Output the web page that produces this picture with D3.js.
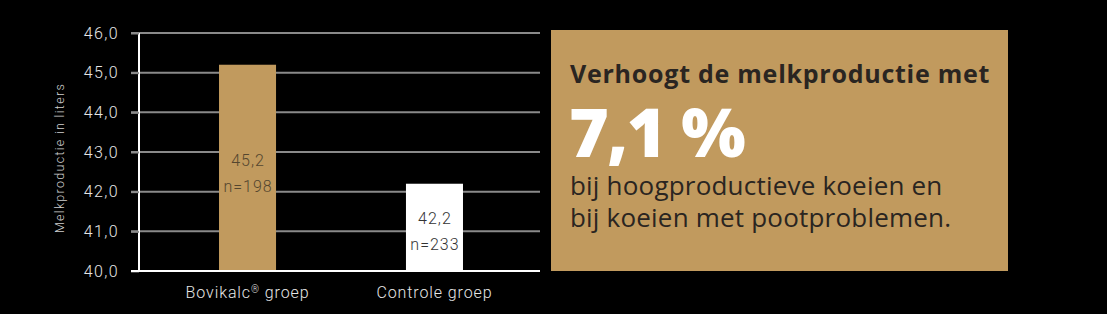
<!DOCTYPE html>
<html>
<head>
<meta charset="utf-8">
<script src="https://cdn.jsdelivr.net/npm/d3@7"></script>
<style>
  body { margin: 0; background: #000; }
  svg { display: block; }
</style>
</head>
<body>
<div id="chart"></div>
<script>
// data
const groups = ["Bovikalc® groep", "Controle groep"];
const values = [45.2, 42.2];
const counts = [198, 233];
const barColors = ["#c19a5e", "#ffffff"];
const yTicks = [40, 41, 42, 43, 44, 45, 46];

const headline = "Verhoogt de melkproductie met";
const bigNumber = "7,1 %";
const bodyLines = ["bij hoogproductieve koeien en", "bij koeien met pootproblemen."];

const W = 1107, H = 314;
const fmt = v => d3.format(".1f")(v).replace(".", ",");
const chartFont = "Roboto, sans-serif";

const svg = d3.select("#chart").append("svg")
    .attr("width", W)
    .attr("height", H);

svg.append("rect").attr("width", W).attr("height", H).attr("fill", "#000");

// chart area
const plot = {left: 139, right: 540, top: 33, bottom: 271};

const x = d3.scaleBand()
    .domain(groups)
    .range([plot.left, plot.left + 404])
    .paddingInner(0.695)
    .paddingOuter(0.428);

const y = d3.scaleLinear()
    .domain([40, 46])
    .range([plot.bottom, plot.top]);

// gridlines
svg.append("g")
    .selectAll("line")
    .data(yTicks.slice(1))
    .enter().append("line")
    .attr("x1", plot.left - 8)
    .attr("x2", plot.right)
    .attr("y1", d => y(d))
    .attr("y2", d => y(d))
    .attr("stroke", "#8a8a8a")
    .attr("stroke-width", 2);

// bars
svg.append("g")
    .selectAll("rect")
    .data(groups)
    .enter().append("rect")
    .attr("x", d => x(d))
    .attr("width", x.bandwidth())
    .attr("y", (d, i) => y(values[i]))
    .attr("height", (d, i) => y(40) - y(values[i]))
    .attr("fill", (d, i) => barColors[i]);

// value labels inside bars
const labelY = [166, 224];
groups.forEach((g, i) => {
    const cx = x(g) + x.bandwidth() / 2 + 0.5;
    const col = i === 0 ? "#54462f" : "#333";
    [fmt(values[i]), "n=" + counts[i]].forEach((t, j) => {
        svg.append("text")
            .attr("x", cx).attr("y", labelY[i] + j * 26)
            .attr("text-anchor", "middle")
            .attr("font-family", chartFont)
            .attr("font-weight", 300)
            .attr("font-size", 16)
            .attr("letter-spacing", 1)
            .attr("fill", col)
            .text(t);
    });
});

// y axis
const yAxis = d3.axisLeft(y)
    .tickValues(yTicks)
    .tickSize(8)
    .tickFormat(fmt);

const yg = svg.append("g")
    .attr("transform", `translate(${plot.left},0)`)
    .call(yAxis);
yg.select(".domain").attr("stroke", "#fff").attr("stroke-width", 2)
    .attr("d", `M0,${plot.top}V${plot.bottom}`);
yg.selectAll(".tick line").attr("stroke", "#8a8a8a").attr("stroke-width", 2);
yg.selectAll(".tick text")
    .attr("x", -20)
    .attr("fill", "#e6e6e6")
    .attr("font-family", chartFont)
    .attr("font-weight", 300)
    .attr("font-size", 16)
    .attr("letter-spacing", 1.4);

// x axis
const xAxis = d3.axisBottom(x).tickSize(0).tickPadding(16);
const xg = svg.append("g")
    .attr("transform", `translate(0,${plot.bottom})`)
    .call(xAxis);
xg.select(".domain").attr("stroke", "#fff").attr("stroke-width", 2)
    .attr("d", `M${plot.left - 8},0H${plot.right}`);
xg.selectAll(".tick text")
    .attr("fill", "#e6e6e6")
    .attr("font-family", chartFont)
    .attr("font-weight", 300)
    .attr("font-size", 16)
    .attr("letter-spacing", 0.9)
    .each(function(d) {
        // registered mark as a small superscript
        if (d.includes("®")) {
            const parts = d.split("®");
            const t = d3.select(this).text(null);
            t.append("tspan").text(parts[0]);
            t.append("tspan").attr("font-size", 10).attr("dy", -5).text("®");
            t.append("tspan").attr("dy", 5).text(parts[1]);
        }
    });

// y axis title
svg.append("text")
    .attr("transform", `translate(64,${(plot.top + plot.bottom) / 2 + 6}) rotate(-90)`)
    .attr("text-anchor", "middle")
    .attr("fill", "#cfcfcf")
    .attr("font-family", chartFont)
    .attr("font-weight", 300)
    .attr("font-size", 12.5)
    .attr("letter-spacing", 1.3)
    .text("Melkproductie in liters");

// callout box
svg.append("rect")
    .attr("x", 551).attr("y", 30)
    .attr("width", 457).attr("height", 241)
    .attr("fill", "#c19a5e");

svg.append("text")
    .attr("x", 570).attr("y", 83)
    .attr("font-family", "'Open Sans', sans-serif")
    .attr("font-weight", 700)
    .attr("font-size", 25)
    .attr("letter-spacing", 0.75)
    .attr("fill", "#2a2521")
    .text(headline);

svg.append("text")
    .attr("x", 569).attr("y", 157)
    .attr("font-family", "'Open Sans', sans-serif")
    .attr("font-weight", 800)
    .attr("font-size", 68)
    .attr("letter-spacing", -1.5)
    .attr("fill", "#fff")
    .text(bigNumber);

bodyLines.forEach((t, i) => {
    svg.append("text")
        .attr("x", 570).attr("y", 195 + i * 32)
        .attr("font-family", "'Open Sans', sans-serif")
        .attr("font-size", 26)
        .attr("letter-spacing", 0.2)
        .attr("fill", "#2a2521")
        .text(t);
});
</script>
</body>
</html>
